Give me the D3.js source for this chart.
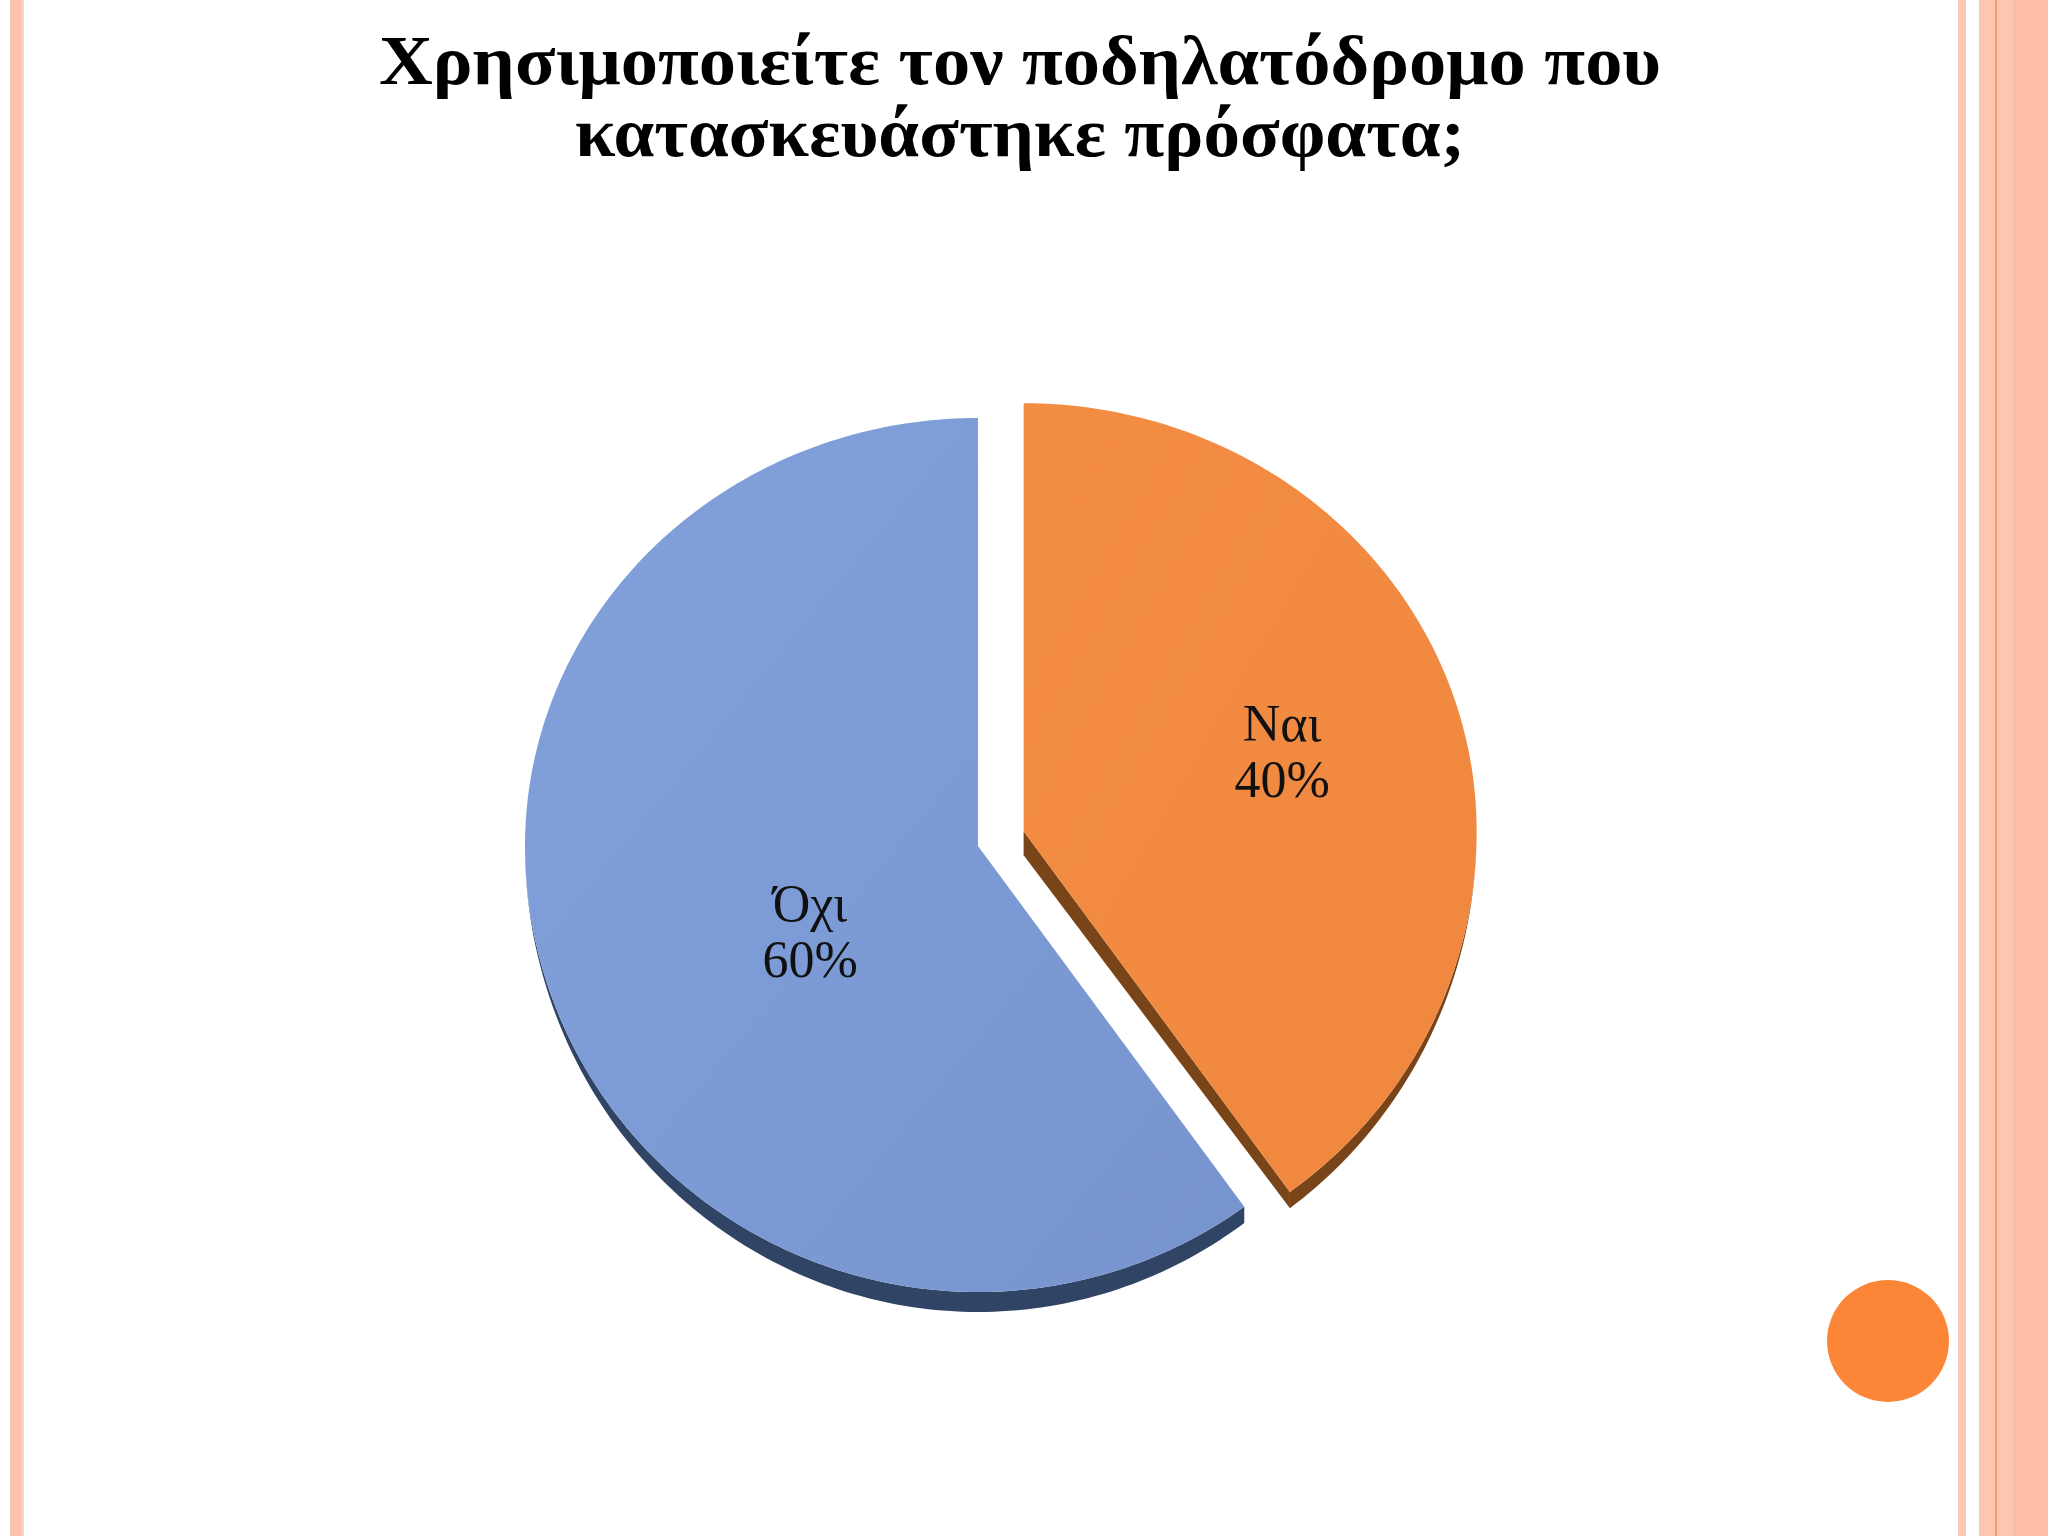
<!DOCTYPE html>
<html>
<head>
<meta charset="utf-8">
<script src="https://cdn.jsdelivr.net/npm/d3@7"></script>
<style>
    html, body { margin: 0; padding: 0; background: #fff; }
    #chart { width: 2048px; height: 1536px; }
</style>
</head>
<body>
<div id="chart"></div>
<script>
// Chart data
const titleLines = ["Χρησιμοποιείτε τον ποδηλατόδρομο που", "κατασκευάστηκε πρόσφατα;"];
const categories = ["Ναι", "Όχι"];
const values = [40, 60];
const percentLabels = ["40%", "60%"];

// Styling
const topColors = [["#f48d44", "#ef873e"], ["#82a1db", "#7794cf"]];
const sideColors = ["#7a4419", "#304466"];

class SlidePie {
    constructor(containerId) {
        this.container = document.getElementById(containerId);
        this.width = 2048;
        this.height = 1536;

        this.svg = d3.select(this.container).append("svg")
            .attr("width", this.width)
            .attr("height", this.height);
        this.defs = this.svg.append("defs");

        // pie geometry (slightly tilted, so top/bottom radii differ)
        this.cx = 978;
        this.cy = 846;
        this.rx = 453;
        this.ryTop = 428;
        this.ryBottom = 446;
        this.depth = 20;
        this.explode = 48;
        this.explodeIndex = 0;

        // label placement: fraction of radius, angle shift (deg)
        this.labelT = [0.6, 0.418];
        this.labelShift = [0, -9.5];
    }

    rim(angle, t, c) {
        const s = Math.sin(angle), k = Math.cos(angle);
        const ry = k > 0 ? this.ryTop : this.ryBottom;
        return [c[0] + this.rx * t * s, c[1] - ry * t * k];
    }

    // wall thickness seen on the rim, thinner towards the sides
    wallDepth(angle) {
        return this.depth * Math.max(0, -Math.cos(angle));
    }

    arcPoints(a0, a1, c, withDepth = false) {
        const n = Math.max(2, Math.ceil((a1 - a0) / (Math.PI / 180)));
        return d3.range(n + 1).map(i => {
            const ang = a0 + (a1 - a0) * i / n;
            const p = this.rim(ang, 1, c);
            return [p[0], p[1] + (withDepth ? this.wallDepth(ang) : 0)];
        });
    }

    drawFrame() {
        const frame = this.svg.append("g").attr("class", "frame");
        const stripes = [
            [10, 14, "#fcc4ae"], [22, 1.5, "#fde0d4"],
            [1958, 8, "#fdc8b4"], [1979, 16, "#fdc6b0"], [1995, 2.5, "#f79a66"],
            [1997.5, 15.5, "#fdc6b0"], [2013, 35, "#fcbfa6"]
        ];
        frame.selectAll("rect").data(stripes).enter().append("rect")
            .attr("x", d => d[0]).attr("y", 0)
            .attr("width", d => d[1]).attr("height", this.height)
            .attr("fill", d => d[2]);

        frame.append("circle")
            .attr("cx", 1888).attr("cy", 1341).attr("r", 61)
            .attr("fill", "#fc8638");
    }

    drawTitle() {
        const widths = [1282, 890];
        this.svg.append("g").attr("class", "title")
            .selectAll("text").data(titleLines).enter().append("text")
            .attr("x", 1020)
            .attr("y", (d, i) => 84 + i * 72)
            .attr("text-anchor", "middle")
            .attr("font-family", "'Liberation Serif', 'DejaVu Serif', serif")
            .attr("font-weight", "bold")
            .attr("font-size", 70)
            .attr("fill", "#000")
            .attr("textLength", (d, i) => widths[i])
            .attr("lengthAdjust", "spacingAndGlyphs")
            .text(d => d);
    }

    drawPie() {
        const arcs = d3.pie().sort(null).value(d => d)(values);
        const line = d3.line();
        const walls = this.svg.append("g").attr("class", "walls");
        const tops = this.svg.append("g").attr("class", "tops");
        const labels = this.svg.append("g").attr("class", "labels");

        arcs.forEach((a, i) => {
            const mid = (a.startAngle + a.endAngle) / 2;
            const off = i === this.explodeIndex ? this.explode : 0;
            const c = [this.cx + off * Math.sin(mid), this.cy - off * Math.cos(mid)];

            // outer side wall (visible on the lower half)
            const s = Math.max(a.startAngle, Math.PI / 2);
            const e = Math.min(a.endAngle, Math.PI * 1.5);
            if (e > s) {
                const pts = this.arcPoints(s, e, c).concat(this.arcPoints(s, e, c, true).reverse());
                walls.append("path").attr("d", line(pts) + "Z").attr("fill", sideColors[i]);
            }

            // radial cut walls
            [[a.startAngle, a.startAngle - Math.PI / 2], [a.endAngle, a.endAngle + Math.PI / 2]]
                .forEach(([ang, normal]) => {
                    if (-Math.cos(normal) > 0.05) {
                        const p = this.rim(ang, 1, c);
                        const dr = this.wallDepth(ang);
                        const pts = [c, p, [p[0], p[1] + dr], [c[0], c[1] + this.depth + 4]];
                        walls.append("path").attr("d", line(pts) + "Z").attr("fill", sideColors[i]);
                    }
                });

            // top face
            const grad = this.defs.append("linearGradient")
                .attr("id", "top" + i)
                .attr("x1", 0).attr("y1", 0).attr("x2", 1).attr("y2", 1);
            grad.append("stop").attr("offset", "0%").attr("stop-color", topColors[i][0]);
            grad.append("stop").attr("offset", "100%").attr("stop-color", topColors[i][1]);

            const face = [c].concat(this.arcPoints(a.startAngle, a.endAngle, c));
            tops.append("path").attr("d", line(face) + "Z").attr("fill", `url(#top${i})`);

            // labels
            const la = mid + this.labelShift[i] * Math.PI / 180;
            const lp = this.rim(la, this.labelT[i], c);
            const txt = labels.append("text")
                .attr("text-anchor", "middle")
                .attr("font-family", "'Liberation Serif', 'DejaVu Serif', serif")
                .attr("font-size", 52)
                .attr("fill", "#111");
            txt.append("tspan").attr("x", lp[0]).attr("y", lp[1] - 11).text(categories[i]);
            txt.append("tspan").attr("x", lp[0]).attr("y", lp[1] + 45).text(percentLabels[i]);
        });
    }

    render() {
        this.drawFrame();
        this.drawTitle();
        this.drawPie();
    }
}

const chart = new SlidePie("chart");
chart.render();
</script>
</body>
</html>
